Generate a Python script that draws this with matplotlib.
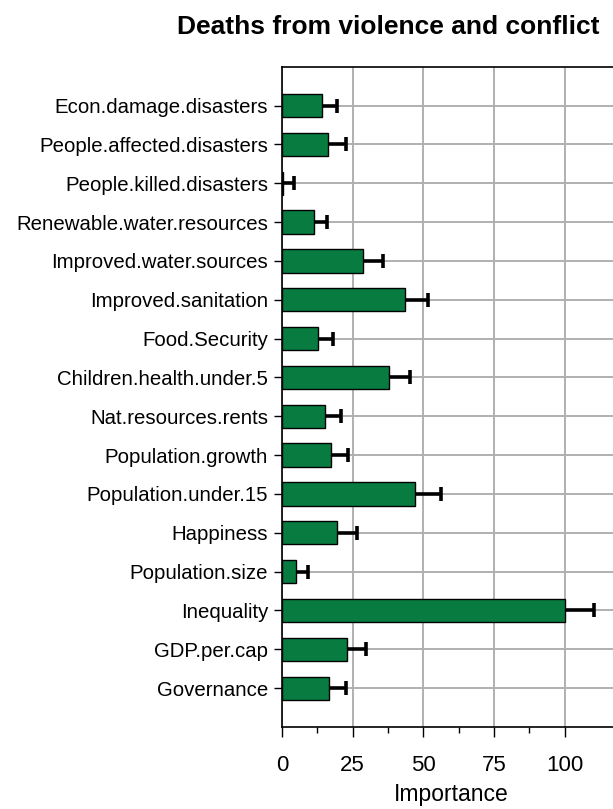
import numpy as np
import matplotlib
matplotlib.use('Agg')
import matplotlib.pyplot as plt
from matplotlib.ticker import FixedLocator

plt.rcParams['font.family'] = ['Liberation Sans', 'DejaVu Sans']

# Variable importance (top to bottom as drawn)
predictors = ['Econ.damage.disasters', 'People.affected.disasters', 'People.killed.disasters',
              'Renewable.water.resources', 'Improved.water.sources', 'Improved.sanitation',
              'Food.Security', 'Children.health.under.5', 'Nat.resources.rents',
              'Population.growth', 'Population.under.15', 'Happiness', 'Population.size',
              'Inequality', 'GDP.per.cap', 'Governance']
importance = [14.3, 16.4, 0.4, 11.3, 28.8, 43.5, 12.6, 38.0, 15.1,
              17.5, 46.9, 19.5, 4.8, 100.0, 22.9, 16.8]
upper = [19.6, 22.6, 4.4, 16.0, 35.8, 51.8, 18.2, 45.3, 21.0,
         23.4, 56.4, 26.4, 9.3, 110.4, 29.7, 22.6]
xticks = [0, 25, 50, 75, 100]

imp = np.array(importance)
err = np.array(upper) - imp
ypos = np.arange(len(predictors), 0, -1)

fig = plt.figure(figsize=(6.13, 8.09), dpi=100)
ax = fig.add_axes([282 / 613, 82 / 809, 339.2 / 613, 660.3 / 809])

# error bars sit behind the bars so only the upper half shows
ax.errorbar(imp, ypos, xerr=err, fmt='none', ecolor='black',
            elinewidth=2.6, capsize=5, capthick=2.6, zorder=2.5)
ax.barh(ypos, imp, height=0.6, color='#087c40', edgecolor='black', linewidth=1.0, zorder=3)

ax.set_xlim(0, 120)
ax.set_ylim(0, len(predictors) + 1)
ax.set_yticks(ypos)
ax.set_yticklabels(predictors, fontsize=14.7)
ax.set_xticks(xticks)
ax.xaxis.set_minor_locator(FixedLocator([12.5, 37.5, 62.5, 87.5]))
ax.tick_params(axis='x', which='major', length=7, width=1, labelsize=16, pad=13)
ax.tick_params(axis='x', which='minor', length=4, width=1)
ax.tick_params(axis='y', length=6, width=1, pad=4)
ax.set_xlabel('Importance', fontsize=16.5, labelpad=5)

ax.grid(True, which='major', color='#b0b0b0', linewidth=1.4, zorder=0)
ax.set_axisbelow(True)
for side in ['left', 'bottom', 'top', 'right']:
    ax.spines[side].set_linewidth(1.2)
    ax.spines[side].set_color('black')

fig.text(388 / 613, 1 - 34 / 809, 'Deaths from violence and conflict', ha='center',
         va='baseline', fontsize=19, fontweight='bold')

fig.savefig('out.png', dpi=100)
